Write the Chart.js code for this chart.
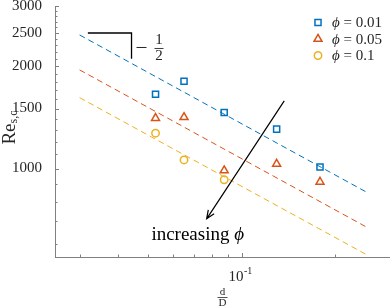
<!doctype html>
<html>

<head>
    <meta charset="UTF-8">
    <title>Re_s,c x d/D</title>
    <script src="https://cdn.jsdelivr.net/npm/chart.js"></script>

    <style>
        body {
            margin: 0;
            background-color: #fff;
        }

        #area {
            width: 390px;
            height: 307px;
        }
    </style>
</head>

<body>

    <div id="area">
        <canvas id="grafico" width="390" height="307"></canvas>
    </div>

    <script>
        // d/D dos pontos medidos
        var razao = [0.0527, 0.0651, 0.0877, 0.1294, 0.1785];
        var razaoFi01 = [0.0527, 0.0651, 0.0877];

        // Re_s,c medido para cada phi
        var reFi001 = [1653, 1805, 1460, 1305, 1010];
        var reFi005 = [1406, 1414, 987, 1032, 914];
        var reFi01 = [1270, 1060, 927];

        // retas tracejadas (so as pontas, inclinacao -1/2)
        var ajusteX = [0.03, 0.25];
        var ajuste001 = [2467, 856];
        var ajuste005 = [1948, 676];
        var ajuste01 = [1615, 561];

        var rotulos = ['ϕ = 0.01', 'ϕ = 0.05', 'ϕ = 0.1'];

        // ticks dos eixos
        var ticksY = [600, 700, 800, 900, 1000, 1100, 1200, 1300, 1400, 1500, 1600, 1700, 1800, 1900, 2000,
            2100, 2200, 2300, 2400, 2500, 2600, 2700, 2800, 2900, 3000];
        var rotulosY = [1000, 1500, 2000, 2500, 3000];
        var ticksX = [0.03, 0.04, 0.05, 0.06, 0.07, 0.08, 0.09, 0.1, 0.2, 0.3];
        var rotulosX = [0.1];

        var azul = '#0072BD';
        var vermelho = '#D95319';
        var amarelo = '#EDB120';
        var fonte = '"Liberation Serif", "DejaVu Serif", serif';

        function pontos(xs, ys) {
            return xs.map((x, i) => ({ x: x, y: ys[i] }));
        }

        function marcador(rotulo, xs, ys, cor, estilo, raio) {
            return {
                label: rotulo,
                data: pontos(xs, ys),
                showLine: false,
                pointStyle: estilo,
                pointRadius: raio,
                pointBorderWidth: 1.5,
                borderColor: cor,
                backgroundColor: 'rgba(0,0,0,0)',
                legenda: true
            };
        }

        function reta(xs, ys, cor) {
            return {
                data: pontos(xs, ys),
                showLine: true,
                borderColor: cor,
                borderWidth: 1,
                borderDash: [6, 4],
                pointRadius: 0,
                legenda: false
            };
        }

        // enfeites: ticks para dentro, titulos, legenda, triangulo e seta
        var enfeites = {
            id: 'enfeites',
            afterDraw(chart) {
                var ctx = chart.ctx;
                var sx = chart.scales.x;
                var sy = chart.scales.y;
                var a = chart.chartArea;
                ctx.save();

                ctx.strokeStyle = '#808080';
                ctx.lineWidth = 1;
                ctx.beginPath();
                sy.ticks.forEach(t => {
                    var py = Math.round(sy.getPixelForValue(t.value)) + 0.5;
                    var tam = rotulosY.includes(t.value) ? 4 : 2.5;
                    ctx.moveTo(a.left, py);
                    ctx.lineTo(a.left + tam, py);
                });
                sx.ticks.forEach(t => {
                    var px = Math.round(sx.getPixelForValue(t.value)) + 0.5;
                    var tam = rotulosX.includes(t.value) ? 4 : 2.5;
                    ctx.moveTo(px, a.bottom);
                    ctx.lineTo(px, a.bottom - tam);
                });
                ctx.stroke();

                ctx.fillStyle = '#262626';
                ctx.textBaseline = 'middle';

                // rotulo 10^-1
                rotulosX.forEach(v => {
                    var px = sx.getPixelForValue(v);
                    ctx.font = '15px ' + fonte;
                    ctx.textAlign = 'right';
                    ctx.fillText('10', px + 1.5, a.bottom + 20);
                    ctx.font = '10px ' + fonte;
                    ctx.textAlign = 'left';
                    ctx.fillText('-1', px + 2, a.bottom + 14);
                });

                // titulo x: d/D
                var cx = (a.left + a.right) / 2;
                ctx.font = '11px ' + fonte;
                ctx.textAlign = 'center';
                ctx.fillText('d', cx, a.bottom + 35);
                ctx.fillText('D', cx, a.bottom + 46);
                ctx.fillRect(cx - 5, a.bottom + 40, 10, 0.8);

                // titulo y: Re_s,c
                ctx.save();
                ctx.translate(15, (a.top + a.bottom) / 2 - 4);
                ctx.rotate(-Math.PI / 2);
                ctx.textBaseline = 'alphabetic';
                ctx.font = '19px ' + fonte;
                var w1 = ctx.measureText('Re').width;
                ctx.font = '12px ' + fonte;
                var w2 = ctx.measureText('s,c').width;
                ctx.font = '19px ' + fonte;
                ctx.textAlign = 'left';
                ctx.fillText('Re', -(w1 + w2) / 2, 0);
                ctx.font = '12px ' + fonte;
                ctx.fillText('s,c', -(w1 + w2) / 2 + w1, 2);
                ctx.restore();

                // legenda
                var linha = 0;
                chart.data.datasets.forEach(ds => {
                    if (!ds.legenda) return;
                    var ly = 22.5 + linha * 16.5;
                    ctx.save();
                    ctx.strokeStyle = ds.borderColor;
                    ctx.fillStyle = 'rgba(0,0,0,0)';
                    ctx.lineWidth = 1.5;
                    Chart.helpers.drawPoint(ctx, {
                        pointStyle: ds.pointStyle,
                        radius: ds.pointRadius,
                        borderWidth: 1.5
                    }, 318, ly);
                    ctx.restore();
                    ctx.fillStyle = '#262626';
                    ctx.textBaseline = 'middle';
                    ctx.textAlign = 'left';
                    ctx.font = 'italic 15px ' + fonte;
                    ctx.fillText(ds.label.charAt(0), 332, ly + 1);
                    var wf = ctx.measureText(ds.label.charAt(0)).width;
                    ctx.font = '15px ' + fonte;
                    ctx.fillText(ds.label.slice(1), 332 + wf, ly + 1);
                    linha++;
                });

                // triangulo de inclinacao
                var t0 = sx.getPixelForValue(0.0319);
                var t1 = sx.getPixelForValue(0.0441);
                var ty0 = sy.getPixelForValue(2500);
                var ty1 = sy.getPixelForValue(2100);
                ctx.strokeStyle = '#000';
                ctx.lineWidth = 1.3;
                ctx.beginPath();
                ctx.moveTo(t0, ty0);
                ctx.lineTo(t1, ty0);
                ctx.lineTo(t1, ty1);
                ctx.stroke();
                ctx.fillStyle = '#262626';
                ctx.fillRect(t1 + 5, ty0 + 14, 10, 1);
                ctx.fillRect(t1 + 23, ty0 + 15, 9, 0.9);
                ctx.font = '15px ' + fonte;
                ctx.textAlign = 'center';
                ctx.textBaseline = 'middle';
                ctx.fillText('1', t1 + 27.5, ty0 + 7);
                ctx.fillText('2', t1 + 27.5, ty0 + 23);

                // seta "increasing phi"
                var s0x = sx.getPixelForValue(0.1369), s0y = sy.getPixelForValue(1580);
                var s1x = sx.getPixelForValue(0.0770), s1y = sy.getPixelForValue(712);
                var ang = Math.atan2(s1y - s0y, s1x - s0x);
                ctx.strokeStyle = '#000';
                ctx.lineWidth = 1.2;
                ctx.beginPath();
                ctx.moveTo(s0x, s0y);
                ctx.lineTo(s1x, s1y);
                ctx.moveTo(s1x - 9 * Math.cos(ang - 0.4), s1y - 9 * Math.sin(ang - 0.4));
                ctx.lineTo(s1x, s1y);
                ctx.lineTo(s1x - 9 * Math.cos(ang + 0.4), s1y - 9 * Math.sin(ang + 0.4));
                ctx.stroke();

                ctx.fillStyle = '#000';
                ctx.textAlign = 'left';
                ctx.textBaseline = 'alphabetic';
                ctx.font = '19px ' + fonte;
                var tx = sx.getPixelForValue(0.0511), tyy = sy.getPixelForValue(618);
                ctx.fillText('increasing ', tx, tyy);
                var wi = ctx.measureText('increasing ').width;
                ctx.font = 'italic 19px ' + fonte;
                ctx.fillText('ϕ', tx + wi, tyy);

                ctx.restore();
            }
        };

        var grafico = new Chart(document.getElementById('grafico').getContext('2d'), {
            type: 'scatter',
            data: {
                datasets: [
                    marcador(rotulos[0], razao, reFi001, azul, 'rect', 4.3),
                    marcador(rotulos[1], razao, reFi005, vermelho, 'triangle', 4.6),
                    marcador(rotulos[2], razaoFi01, reFi01, amarelo, 'circle', 3.7),
                    reta(ajusteX, ajuste001, azul),
                    reta(ajusteX, ajuste005, vermelho),
                    reta(ajusteX, ajuste01, amarelo)
                ]
            },
            options: {
                responsive: false,
                animation: false,
                devicePixelRatio: 1,
                layout: {
                    autoPadding: false,
                    padding: { top: 6, right: 0, bottom: 0, left: 0 }
                },
                plugins: {
                    legend: { display: false },
                    tooltip: { enabled: false }
                },
                scales: {
                    x: {
                        type: 'logarithmic',
                        min: 0.025,
                        max: 0.3,
                        afterBuildTicks: s => { s.ticks = ticksX.map(v => ({ value: v })); },
                        afterFit: s => { s.height = 50; s.paddingLeft = 0; s.paddingRight = 0; },
                        grid: { display: false },
                        border: { display: true, color: '#808080', width: 1 },
                        ticks: { display: false }
                    },
                    y: {
                        type: 'logarithmic',
                        min: 550,
                        max: 3000,
                        afterBuildTicks: s => { s.ticks = ticksY.map(v => ({ value: v })); },
                        afterFit: s => { s.width = 55; s.paddingTop = 0; s.paddingBottom = 0; },
                        grid: { display: false },
                        border: { display: true, color: '#808080', width: 1 },
                        ticks: {
                            autoSkip: false,
                            padding: 5,
                            color: '#262626',
                            font: { family: fonte, size: 15 },
                            callback: v => rotulosY.includes(v) ? String(v) : ''
                        }
                    }
                }
            },
            plugins: [enfeites]
        });
    </script>
</body>

</html>
